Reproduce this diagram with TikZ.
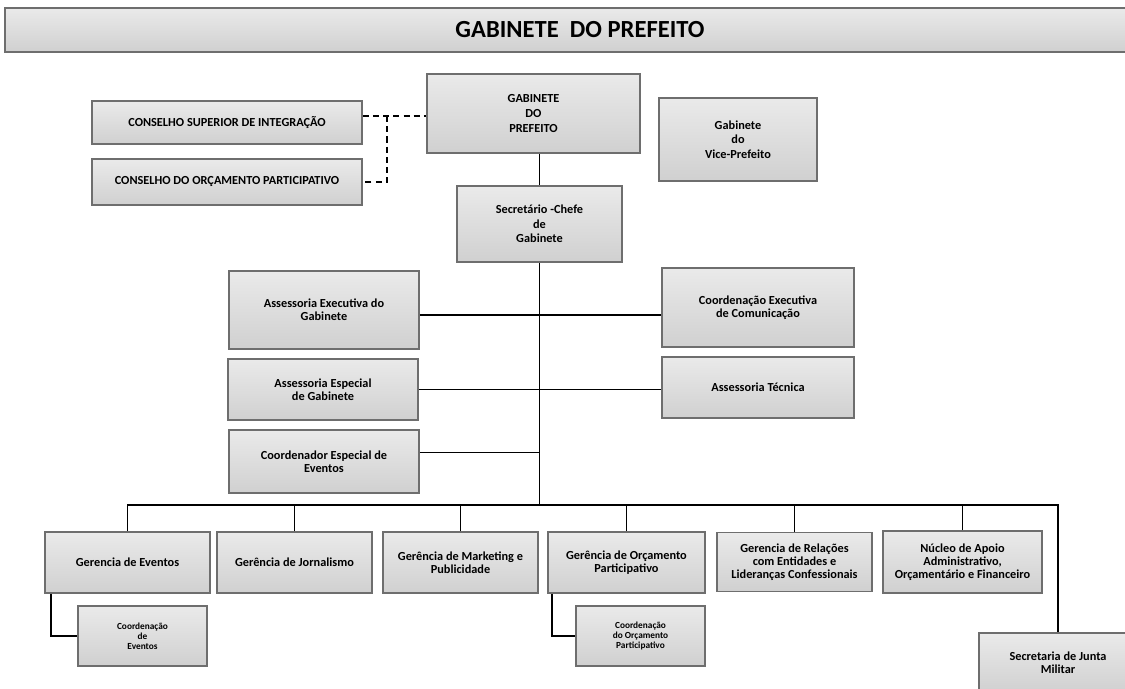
\documentclass[tikz,border=0pt]{standalone}
\usepackage{fontspec}
\setmainfont{Carlito}
\definecolor{boxtop}{HTML}{EAEAEA}
\definecolor{boxbot}{HTML}{D0D0D0}
\definecolor{boxedge}{HTML}{6E6E6E}
\tikzset{
  box/.style={draw=boxedge, line width=0.9pt, top color=boxtop, bottom color=boxbot,
    align=center, inner sep=1pt, text=black, font=\bfseries\fontsize{7}{7.4}\selectfont},
  tallbox/.style={box, font=\bfseries\fontsize{7}{8.3}\selectfont},
  tinybox/.style={box, font=\bfseries\fontsize{5.3}{5.8}\selectfont},
  banner/.style={draw=boxedge, line width=0.9pt, top color=boxtop, bottom color=boxbot,
    text=black, font=\bfseries\fontsize{14}{16}\selectfont},
  link/.style={line width=1.1pt, draw=black},
  dashlink/.style={line width=1.1pt, draw=black, dash pattern=on 3.5pt off 2.3pt},
}
\begin{document}
\begin{tikzpicture}[x=0.02cm, y=-0.02cm]
\useasboundingbox (0,0) rectangle (1125,689);
\fill[white] (0,0) rectangle (1125,689);

% title banner
\node[banner, minimum width=23cm, minimum height=0.88cm] (title) at (580,30) {GABINETE\ \ DO PREFEITO};

% top level
\node[tallbox, minimum width=4.26cm, minimum height=1.58cm] (gab) at (533.5,113.5) {GABINETE\\DO\\PREFEITO};
\node[box, minimum width=5.4cm, minimum height=0.86cm] (csi) at (227,122.5) {CONSELHO SUPERIOR DE INTEGRAÇÃO};
\node[box, minimum width=5.4cm, minimum height=0.92cm] (cop) at (227,182) {CONSELHO DO ORÇAMENTO PARTICIPATIVO};
\node[tallbox, minimum width=3.16cm, minimum height=1.66cm] (vice) at (738,139.5) {Gabinete\\do\\Vice-Prefeito};
\node[tallbox, minimum width=3.3cm, minimum height=1.52cm] (sec) at (539.5,224) {Secretário -Chefe\\de\\Gabinete};

% middle level
\node[box, minimum width=3.8cm, minimum height=1.56cm] (ae) at (324,310) {Assessoria Executiva do\\Gabinete};
\node[box, minimum width=3.84cm, minimum height=1.58cm] (ce) at (758,307.5) {Coordenação Executiva\\de Comunicação};
\node[box, minimum width=3.8cm, minimum height=1.22cm] (aesp) at (323,389.5) {Assessoria Especial\\de Gabinete};
\node[box, minimum width=3.84cm, minimum height=1.22cm] (at) at (758,387.5) {Assessoria Técnica};
\node[box, minimum width=3.8cm, minimum height=1.26cm] (cesp) at (324,461.5) {Coordenador Especial de\\Eventos};

% bottom level
\node[box, minimum width=3.3cm, minimum height=1.22cm] (ge) at (127.5,562.5) {Gerencia de Eventos};
\node[box, minimum width=3.1cm, minimum height=1.22cm] (gj) at (294.5,562.5) {Gerência de Jornalismo};
\node[box, minimum width=3.1cm, minimum height=1.22cm] (gm) at (460.5,562.5) {Gerência de Marketing e\\Publicidade};
\node[box, minimum width=3.14cm, minimum height=1.22cm] (go) at (626.5,562.5) {Gerência de Orçamento\\Participativo};
\node[box, minimum width=3.1cm, minimum height=1.18cm] (gr) at (794.5,562) {Gerencia de Relações\\com Entidades e\\Lideranças Confessionais};
\node[box, minimum width=3.18cm, minimum height=1.24cm] (nu) at (962.5,562) {Núcleo de Apoio\\Administrativo,\\Orçamentário e Financeiro};

% sub boxes
\node[tinybox, minimum width=2.58cm, minimum height=1.2cm] (ce2) at (142.5,636) {Coordenação\\de\\Eventos};
\node[tinybox, minimum width=2.58cm, minimum height=1.2cm] (co2) at (640.5,636) {Coordenação\\do Orçamento\\Participativo};
\node[box, minimum width=3.16cm, minimum height=1.2cm] (sj) at (1058,663) {Secretaria de Junta\\Militar};

% coordinates
\coordinate (dj) at (387,116);
\coordinate (bus) at (541,505);

% dashed links
\draw[dashlink] (csi.east |- dj) -- (gab.west |- dj);
\draw[dashlink] (dj) |- (cop.east);

% solid links
\draw[link] (gab.south -| sec.north) -- (sec.north);
\draw[link] (sec.south) -- (sec.south |- bus);
\draw[link] ([yshift=-0.1cm]ae.east) -- ([yshift=-0.1cm]ae.east -| ce.west);
\draw[link] (aesp.east) -- (aesp.east -| at.west);
\draw[link] ([yshift=0.18cm]cesp.east) -- ([yshift=0.18cm]cesp.east -| sec.south);
\draw[link] (ge.north) |- (sj.north |- bus) -- (sj.north);
\foreach \n in {gj,gm,go,gr,nu} \draw[link] (\n.north) -- (\n.north |- bus);
\draw[link] ([xshift=0.14cm]ge.south west) |- (ce2.west);
\draw[link] ([xshift=0.1cm]go.south west) |- (co2.west);
\end{tikzpicture}
\end{document}
